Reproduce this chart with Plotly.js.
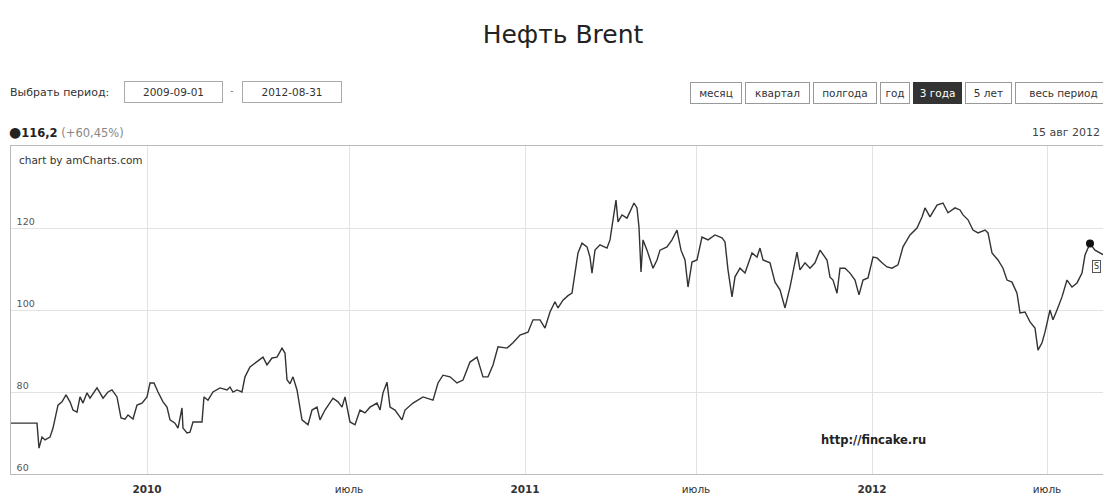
<!DOCTYPE html>
<html>
<head>
<meta charset="utf-8">
<script src="https://cdn.plot.ly/plotly-3.0.1.min.js"></script>
<style>
  html, body { margin: 0; padding: 0; background: #fff; }
  #chart { width: 1103px; height: 501px; }
</style>
</head>
<body>
<div id="chart"></div>
<script>
// Trading-day index (category axis position) for each sample of the series
const dayIndex = [0,26,28,31,34,39,42,47,51,55,59,62,66,69,72,76,79,86,89,92,97,101,106,110,114,117,122,126,131,136,139,143,147,152,156,159,164,167,171,172,176,179,182,191,193,197,202,209,216,219,222,226,231,234,239,246,252,256,261,266,271,274,276,279,282,286,291,297,301,306,309,314,322,327,331,334,339,344,349,354,359,366,369,372,376,379,384,391,394,402,412,422,427,432,439,446,452,459,466,472,477,482,487,496,502,509,517,522,529,534,539,544,547,552,557,561,564,567,571,576,579,581,584,589,596,599,602,605,607,611,616,619,623,626,628,630,632,636,639,642,646,649,656,661,666,670,674,677,681,686,691,697,704,711,714,717,721,724,729,734,741,746,749,752,759,764,769,774,779,786,789,794,799,804,809,816,819,822,826,829,834,839,844,848,852,857,862,866,871,876,881,887,892,899,906,911,914,919,926,932,937,944,949,952,957,962,967,974,977,981,987,992,996,1001,1006,1009,1014,1019,1024,1027,1031,1034,1039,1042,1046,1051,1056,1061,1066,1071,1074,1079,1084,1092];

// Brent price, USD per barrel
const brentPrice = [72.4,72.4,66.3,69.0,68.3,69.0,71.2,76.8,77.6,79.3,77.6,75.6,75.1,78.8,77.3,79.8,78.5,81.0,79.8,78.5,80.0,80.5,78.8,73.7,73.4,74.4,73.4,76.8,77.3,78.8,82.2,82.2,80.0,77.6,76.3,73.2,72.4,71.2,76.1,71.2,70.0,70.2,72.7,72.7,78.8,78.0,80.0,81.0,80.5,81.2,80.0,80.5,80.0,83.7,86.1,87.3,88.5,86.6,88.3,88.5,90.7,89.5,83.0,82.0,83.7,80.5,73.2,72.0,75.6,76.3,73.2,75.6,78.5,77.6,76.3,78.8,72.7,72.0,75.6,74.9,76.3,77.3,75.6,79.8,82.4,76.3,75.6,73.2,75.6,77.3,78.8,78.0,82.2,84.1,83.7,82.2,82.9,87.3,88.5,83.7,83.7,86.6,91.0,90.7,92.0,93.9,94.6,97.6,97.6,95.6,99.5,102.0,100.5,102.4,103.5,104.1,109.0,113.9,116.3,115.4,112.9,109.0,114.6,115.9,115.1,117.1,122.0,126.8,121.5,123.2,122.4,123.9,126.1,124.9,120.2,109.3,117.1,114.6,112.2,110.2,112.2,114.6,115.4,117.1,119.5,114.6,112.2,105.6,111.7,112.2,117.8,117.1,118.3,117.6,116.6,109.8,103.2,108.1,110.2,109.0,113.9,112.9,115.1,112.2,111.5,106.8,104.9,100.5,105.6,114.1,109.8,111.5,110.2,111.5,114.6,112.2,108.0,107.3,104.1,110.2,110.2,109.0,107.3,103.7,107.3,107.8,112.9,112.7,111.5,110.5,110.2,111.0,115.4,118.3,120.0,122.7,124.9,122.7,125.6,126.1,123.7,124.9,124.4,123.2,122.0,119.5,118.8,119.5,118.8,113.9,112.2,110.2,107.3,106.8,104.1,99.3,99.5,97.1,95.6,90.2,92.0,94.6,100.0,97.6,100.0,103.2,107.3,105.6,106.6,109.0,113.4,116.2,114.6,113.5];

// Selected (cursor) point
const selectedPos = 231;

// X axis ticks (category positions and labels)
const xTickVals = [136, 338, 514, 685, 861, 1036];
const xTickText = ['<b>2010</b>', 'июль', '<b>2011</b>', 'июль', '<b>2012</b>', 'июль'];

// Y axis ticks
const yTickVals = [60, 80, 100, 120];

// Controls
const periodLabel = 'Выбрать период:';
const periodFrom = '2009-09-01';
const periodTo = '2012-08-31';
const rangeButtons = ['месяц', 'квартал', 'полгода', 'год', '3 года', '5 лет', 'весь период'];
const activeButton = '3 года';
const valueText = '116,2';
const changeText = '(+60,45%)';
const dateText = '15 авг 2012';

const W = 1103, H = 501;
const L = 11, R = 0, T = 146, B = 27;
const px = v => (v - L) / (W - L - R);
const py = v => (H - B - v) / (H - T - B);

const FONT = 'DejaVu Sans, Verdana, sans-serif';

const annotations = [];

function txt(x, y, text, opts) {
  annotations.push(Object.assign({
    xref: 'paper', yref: 'paper', x: px(x), y: py(y), text: text,
    showarrow: false, xanchor: 'left', yanchor: 'middle',
    font: { family: FONT, size: 11, color: '#333' }
  }, opts || {}));
}

txt(8, 92, periodLabel, { font: { family: FONT, size: 11, color: '#333' } });
txt(173, 92, periodFrom, { xanchor: 'center', width: 93, height: 16, borderpad: 2, bordercolor: '#aaa', borderwidth: 1, bgcolor: '#fff', font: { family: FONT, size: 10.5, color: '#333' } });
txt(232, 90, '-', { xanchor: 'center', font: { family: FONT, size: 10, color: '#888' } });
txt(292, 92, periodTo, { xanchor: 'center', width: 94, height: 16, borderpad: 2, bordercolor: '#aaa', borderwidth: 1, bgcolor: '#fff', font: { family: FONT, size: 10.5, color: '#333' } });

const btnLeft = [690, 745, 813, 880, 913, 965, 1015];
const btnRight = [742, 810, 877, 910, 962, 1012, 1112];
rangeButtons.forEach((b, i) => {
  const active = b === activeButton;
  txt((btnLeft[i] + btnRight[i]) / 2, 93, b, {
    xanchor: 'center', width: btnRight[i] - btnLeft[i] - 6, height: 16, borderpad: 2,
    bordercolor: active ? '#333' : '#999', borderwidth: 1,
    bgcolor: active ? '#333' : '#fff',
    font: { family: FONT, size: 10.5, color: active ? '#fff' : '#333' }
  });
});

txt(7, 132, '<span style="font-size:14px">●</span><b>' + valueText + '</b> <span style="color:#888">' + changeText + '</span>', { font: { family: FONT, size: 11.5, color: '#222' } });
txt(1102, 132, dateText, { xanchor: 'right', font: { family: FONT, size: 11, color: '#444' } });
txt(17, 160, 'chart by amCharts.com', { font: { family: FONT, size: 10.5, color: '#333' } });
txt(873, 440, '<b>http://fincake.ru</b>', { xanchor: 'center', font: { family: FONT, size: 11.5, color: '#222' } });
txt(1096, 266, 'S', { xanchor: 'center', borderpad: 1, bordercolor: '#555', borderwidth: 1, bgcolor: '#fff', font: { family: FONT, size: 8, color: '#333' } });

const traces = [
  {
    x: dayIndex, y: brentPrice, type: 'scatter', mode: 'lines',
    line: { color: '#333', width: 1.4 }, hoverinfo: 'skip', showlegend: false
  },
  {
    x: [dayIndex[selectedPos]], y: [brentPrice[selectedPos]], type: 'scatter', mode: 'markers',
    marker: { color: '#111', size: 8 }, hoverinfo: 'skip', showlegend: false
  }
];

const layout = {
  width: W, height: H,
  margin: { l: L, r: R, t: T, b: B },
  paper_bgcolor: '#fff', plot_bgcolor: '#fff',
  title: {
    text: 'Нефть Brent', xref: 'container', yref: 'container',
    x: 563 / W, y: 1 - 34 / H, xanchor: 'center', yanchor: 'middle',
    font: { family: FONT, size: 25, color: '#222' }
  },
  xaxis: {
    range: [0, 1092], tickmode: 'array', tickvals: xTickVals, ticktext: xTickText,
    showgrid: true, gridcolor: '#e2e2e2', gridwidth: 1, zeroline: false,
    showline: true, linecolor: '#bbb', linewidth: 1, mirror: true,
    ticks: 'outside', ticklen: 5, tickcolor: 'rgba(0,0,0,0)',
    tickfont: { family: FONT, size: 10.5, color: '#333' }, fixedrange: true
  },
  yaxis: {
    range: [60, 140], tickmode: 'array', tickvals: yTickVals,
    showgrid: true, gridcolor: '#e2e2e2', gridwidth: 1, zeroline: false,
    showline: true, linecolor: '#bbb', linewidth: 1,
    ticklabelposition: 'inside top', ticks: '', ticklabelstandoff: 4,
    tickfont: { family: FONT, size: 9.5, color: '#555' }, fixedrange: true
  },
  annotations: annotations
};

Plotly.newPlot('chart', traces, layout, { displayModeBar: false, staticPlot: true });
</script>
</body>
</html>
